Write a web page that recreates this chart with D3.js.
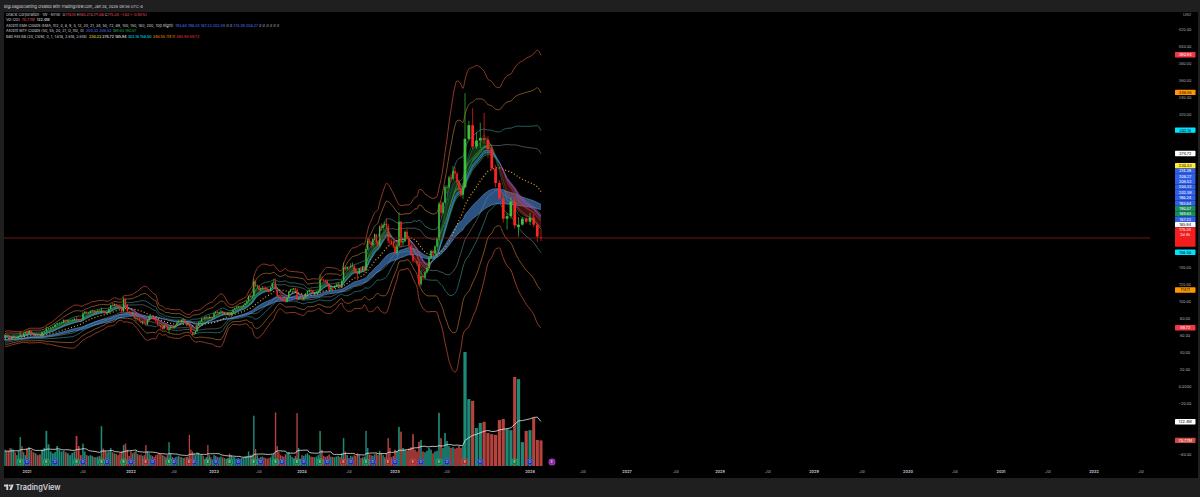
<!DOCTYPE html>
<html>
<head>
<meta charset="utf-8">
<title>ORCL 1W</title>
<script src="https://cdn.jsdelivr.net/npm/d3@7/dist/d3.min.js"></script>
<style>
  html, body { margin:0; padding:0; background:#1f1f1f; overflow:hidden; }
  svg { display:block; font-family: Inter, "Noto Sans", "DejaVu Sans", sans-serif; }
  text { white-space: pre; }
</style>
</head>
<body>
<svg id="chart" width="1200" height="497"></svg>
<script>
// ================= DATA (weekly bars, ORCL) =================
const startWeek = "2020-05-25";

const opens = [
  52.5,53.8,55.2,53.5,53.5,54.5,55.3,55.0,56.0,55.0,55.3,55.8,55.5,57.0,57.2,58.0,61.0,59.5,59.0,
  59.5,61.5,61.0,59.5,56.5,58.5,59.0,58.0,58.0,60.0,61.0,60.0,63.5,
  64.5,63.5,66.0,62.5, 60.5,61.0,60.5,60.0, 64.5,65.5,68.5,69.0,70.0, 71.0,73.5,75.0,75.5, 76.0,79.0,77.0,78.5,78.7, 79.0,80.5,79.8,79.5, 79.5,86.5,88.5,87.0, 87.2,89.5,90.0,88.0,89.0, 89.7,89.0,89.5,88.5, 87.0,88.0,92.0,96.5, 96.0,97.5,96.0,95.5,92.8, 89.0,103.5,97.0,89.0,
  87.5,86.0,86.5,80.5,81.0, 80.5,77.5,75.5,77.0, 75.5,73.5,79.0,83.0, 83.5,80.0,79.0,77.0, 73.5,73.0,70.5,68.5,72.5, 71.5,67.0,69.0,70.8, 70.0,71.0,72.5,76.0, 77.8,76.5,79.0,79.5,76.0, 73.0,74.5,71.0,64.5, 61.5,63.0,65.5,72.5,76.0, 76.5,80.5,80.0,82.5, 82.5,81.5,82.5,81.5,
  82.0,87.0,88.5,87.0,88.0, 89.0,86.5,87.0,85.0, 87.5,86.0,88.0,91.0, 93.0,93.5,95.0,94.5, 94.7,96.5,98.5,101.5,107.0, 106.0,107.0,124.5,119.0, 119.0,114.5,116.0,116.5,116.0, 115.5,114.0,113.0,117.0, 122.5,123.0,115.0,107.0, 106.0,103.5,102.5,101.0,100.0, 105.0,112.0,114.5,115.0, 116.0,114.5,103.0,105.0,
  105.5,103.0,105.5,110.0,112.5, 114.0,113.0,110.5,111.5, 111.7,113.0,126.5,126.0, 125.6,125.0,121.0,114.5,117.0, 116.5,119.0,120.5,121.0, 117.2,125.0,140.5,139.0, 141.2,141.0,142.5,143.0,137.0, 135.0,133.5,139.5,137.5, 141.3,137.5,162.0,172.0,171.0, 167.0,174.0,179.5,170.5, 166.5,189.0,187.0,190.5, 192.0,189.5,172.0,171.0,169.5,
  165.5,158.0,166.0,194.5, 170.0,171.5,182.5,175.0, 166.5,156.0,148.5,148.0,145.0, 121.0,130.5,129.0,135.0, 140.0,152.0,160.0,157.0, 165.5,174.0,215.0,205.0,217.0, 235.0,235.0,246.5,245.0, 254.0,251.0,241.0,234.0, 226.0,235.0,292.0,308.0,283.0, 290.0,293.0,291.0,280.0, 257.0,240.0,222.0,198.0, 201.0,218.0,188.0,191.0,198.0,
  194.5,199.0,191.0,176.10
];
const highs = [
  54.5,55.5,56.0,55.0,55.0,55.5,56.0,56.5,56.5,55.5,56.5,56.5,57.5,58.0,60.5,63.5,62.5,60.0,60.5,
  62.0,62.5,61.5,60.0,59.5,60.5,59.5,59.0,60.0,65.0,61.5,63.5,65.0,
  66.0,66.5,66.5,63.0, 61.5,61.5,61.0,65.0, 66.5,71.0,70.0,70.5,71.5, 74.0,75.5,76.5,77.0, 79.5,79.5,79.0,79.5,80.0, 81.0,83.5,80.0,80.0, 88.5,89.5,89.0,88.5, 90.0,91.0,90.5,89.5,91.0, 91.5,93.5,90.0,89.5, 89.0,92.5,97.0,99.0, 98.5,98.0,97.0,96.0,94.0, 106.0,104.0,97.5,89.5,
  89.0,88.0,87.0,81.5,82.0, 81.5,79.0,77.5,78.0, 76.0,80.0,84.0,85.0, 84.5,81.0,81.5,78.5, 76.0,73.5,72.0,73.0,74.0, 72.5,70.5,72.0,72.5, 71.5,73.5,76.5,78.5, 78.5,79.5,81.0,80.0,76.5, 75.0,76.5,71.5,65.0, 64.5,66.0,73.0,77.0,78.0, 81.0,81.5,82.5,83.5, 83.0,84.5,83.0,82.5,
  87.5,89.0,89.5,88.5,91.0, 89.5,88.0,87.5,88.0, 88.5,88.5,91.5,93.5, 95.0,95.5,96.0,95.5, 97.0,99.0,102.0,107.5,108.5, 108.0,127.5,125.0,120.5, 119.5,117.0,119.0,118.5,118.5, 116.5,115.5,117.5,123.0, 127.5,127.5,116.0,108.5, 107.0,105.5,104.0,103.0,105.5, 112.5,115.0,116.0,116.5, 117.0,116.0,106.0,106.5,
  106.0,106.0,110.5,113.5,115.0, 115.5,114.0,112.0,113.0, 114.0,132.5,130.0,127.5, 126.5,126.0,122.0,118.0,118.5, 119.5,122.0,123.5,121.5, 125.5,146.5,142.5,142.0, 142.5,145.5,146.5,143.5,140.5, 136.0,140.0,140.5,142.0, 142.0,162.5,175.0,174.5,172.0, 175.0,180.5,180.0,173.0, 190.0,192.5,191.5,194.0, 198.0,192.0,180.0,174.0,171.5,
  168.0,167.5,205.5,195.0, 174.5,184.0,186.0,177.0, 168.0,160.0,154.0,153.5,147.5, 137.5,133.5,136.0,141.5, 153.0,161.5,161.5,166.5, 175.5,217.5,218.5,218.0,237.0, 237.5,248.5,251.0,260.0, 259.0,253.0,244.0,237.5, 240.0,345.7,313.0,328.0,300.0, 311.0,322.5,295.0,285.0, 261.0,243.0,228.0,205.0, 223.0,223.5,200.0,200.0,199.5,
  205.0,204.0,192.5,185.21
];
const lows = [
  52.0,53.5,52.5,52.5,52.5,54.0,54.5,54.5,54.5,53.5,54.5,55.0,55.0,56.0,56.0,57.0,59.0,57.0,58.0,
  58.5,60.5,59.0,55.5,56.0,57.5,57.5,57.5,57.5,59.5,58.5,59.5,63.0,
  62.5,63.0,62.5,60.0, 59.5,60.0,59.5,59.5, 63.0,65.0,67.5,67.5,69.5, 70.5,73.0,74.0,75.0, 75.5,75.0,76.0,78.0,78.0, 78.5,77.5,77.5,77.5, 79.0,86.0,85.5,86.5, 87.0,88.5,86.5,87.5,88.5, 88.5,86.5,87.0,85.5, 85.5,87.5,91.5,95.0, 95.0,94.5,94.5,92.0,86.0, 88.0,94.0,88.0,86.5,
  84.5,84.5,80.0,77.5,78.5, 77.0,75.0,73.5,74.5, 72.5,73.0,78.5,82.0, 79.5,78.5,76.5,73.0, 71.5,67.5,67.0,67.5,70.5, 67.0,63.8,68.0,68.5, 68.5,70.0,72.0,74.5, 75.5,76.0,78.5,75.5,72.5, 72.0,70.5,64.0,60.8, 61.0,62.0,65.0,72.0,74.0, 76.0,79.0,79.5,81.0, 80.0,80.5,80.5,80.5,
  81.5,86.0,86.5,86.0,87.5, 86.0,85.5,84.5,84.5, 84.0,82.0,87.5,90.5, 92.5,93.0,94.0,93.0, 94.0,96.0,98.0,100.5,104.5, 104.0,106.5,117.5,115.5, 113.5,112.5,115.0,114.5,113.5, 112.0,111.5,112.5,116.5, 121.5,114.5,106.5,104.5, 102.5,101.5,100.5,99.3,99.5, 104.5,111.5,113.5,113.5, 113.5,101.0,102.5,104.5,
  102.5,102.5,105.0,109.5,111.5, 112.0,109.5,108.5,110.5, 110.0,112.5,124.5,124.0, 122.5,120.5,113.5,113.0,113.5, 116.0,118.0,118.5,115.5, 116.5,124.0,136.5,137.0, 137.5,139.5,141.0,134.5,133.0, 125.5,132.5,136.5,136.5, 134.5,136.5,160.5,168.0,164.0, 166.0,172.5,168.0,164.5, 166.0,183.5,184.5,188.0, 186.5,169.0,166.5,167.5,163.5,
  156.0,155.5,164.5,163.5, 166.0,170.5,173.5,162.0, 153.5,146.5,146.0,142.0,118.5, 118.9,125.5,126.0,133.5, 139.0,151.0,155.5,156.0, 164.0,172.5,199.5,203.5,216.0, 227.0,232.5,241.0,243.0, 246.0,238.0,228.5,224.0, 221.5,234.0,290.0,280.0,280.0, 281.0,286.0,270.0,255.0, 235.0,220.0,193.5,185.5, 198.0,186.5,177.0,190.0,192.5,
  190.5,188.0,170.5,171.68
];
const closes = [
  53.8,55.2,53.5,53.5,54.5,55.3,55.0,56.0,55.0,55.3,55.8,55.5,57.0,57.2,58.0,61.0,59.5,59.0,59.5,
  61.5,61.0,59.5,56.1,58.5,59.0,58.0,58.5,59.6,61.0,59.8,63.3,64.7,
  63.5,66.0,62.5,60.4, 61.0,60.5,60.2,64.5, 65.3,68.5,69.0,70.0,71.0, 73.5,75.0,75.5,75.8, 79.0,77.0,78.5,78.7,79.0, 80.5,79.8,79.5,79.4, 86.5,88.5,87.0,87.2, 89.5,90.0,88.0,89.0,89.7, 89.0,89.5,88.5,87.0, 88.0,92.0,96.5,96.0, 97.5,96.0,95.5,92.8,89.0, 103.5,97.0,89.0,87.2,
  86.0,86.5,80.5,81.0,80.5, 77.5,75.5,77.0,75.5, 73.5,79.0,83.0,83.5, 80.0,79.0,77.0,73.4, 73.0,70.5,68.5,72.5,71.5, 67.5,69.0,70.8,69.9, 71.0,72.5,76.0,77.8, 76.5,79.0,79.5,76.0,73.0, 74.5,71.0,64.5,61.1, 63.0,65.5,72.5,76.0,76.5, 80.5,80.0,82.5,82.5, 81.5,82.5,81.5,81.7,
  87.0,88.5,87.0,88.0,89.0, 86.5,87.0,85.0,87.5, 86.0,88.0,91.0,92.9, 93.5,95.0,94.5,94.7, 96.5,98.5,101.5,107.0,106.0, 106.5,124.5,119.0,119.1, 114.5,116.0,116.5,116.0,115.5, 114.0,113.0,117.0,122.5, 123.0,115.0,107.0,105.9, 103.5,102.5,101.0,100.0,105.0, 112.0,114.5,115.0,116.0, 114.5,103.0,105.0,105.4,
  103.0,105.5,110.0,112.5,114.0, 113.0,110.5,111.5,111.7, 113.0,126.5,126.0,125.6, 125.0,121.0,114.5,117.0,116.5, 119.0,120.5,121.0,117.2, 125.0,140.5,139.0,141.2, 141.0,142.5,143.0,137.0,135.0, 133.5,139.5,137.5,141.3, 137.5,162.0,172.0,171.0,167.0, 174.0,179.5,170.5,166.5, 189.0,187.0,190.5,192.0, 189.5,172.0,171.0,169.5,165.5,
  158.0,166.0,194.5,170.0, 171.5,182.5,175.0,166.5, 156.0,148.5,148.0,145.0,121.0, 130.5,129.0,135.0,140.0, 152.0,160.0,157.0,165.5, 174.0,215.0,205.0,217.0,235.0, 235.0,246.5,245.0,254.0, 251.0,241.0,234.0,226.0, 235.0,292.0,308.0,283.0,290.0, 293.0,291.0,280.0,257.0, 240.0,222.0,198.0,201.0, 218.0,190.0,191.0,198.0,194.5,
  199.0,191.0,176.96,175.34
];
// weekly volume, millions
const volumes = [
  40,42,45,38,45,30,32,38,36,35,30,28,30,32,40,110,60,35,30,
  45,40,42,50,48,45,38,30,42,80,55,38,30,
  48,52,44,38, 35,30,32,45, 50,97,60,40,35, 38,55,45,40, 42,38,35,30,36, 40,83,55,30, 62,40,30,28, 30,28,25,24,26, 28,110,48,42, 38,40,50,38, 35,33,30,35,40, 58,62,45,28,
  40,35,38,42,33, 30,32,28,30, 58,40,35,30, 28,25,30,32, 35,33,30,28,25, 30,66,35,25, 22,24,26,28, 25,24,22,23,25, 26,86,45,40, 35,30,38,36,30, 32,28,20,25, 58,30,25,18,
  30,28,25,24,26, 24,22,20,22, 34,30,25,24, 20,22,20,22, 24,26,28,40,30, 32,139,47,30, 22,25,26,24,22, 20,22,24,30, 35,148,55,38, 30,28,26,32,35, 38,30,25,22, 28,146,50,20,
  30,28,32,35,30, 26,25,24,26, 30,97,45,28, 25,28,32,26,25, 24,26,28,25, 35,77,40,30, 22,28,26,30,28, 35,30,22,24, 26,97,50,32,30, 28,32,35,30, 42,36,30,24, 35,77,50,25,28,
  45,40,108,95, 50,45,42,48, 52,88,45,40,67, 72,40,38,42, 50,45,35,40, 42,147,77,50,91, 69,55,50,52, 48,50,55,50, 55,315,185,180,105, 119,122,91,88, 86,127,130,102, 99,246,240,66,97,
  99,133,72,70.77
];

// earnings and dividends
const earningsDates = ["2020-09-10","2020-12-10","2021-03-10","2021-06-15","2021-09-13","2021-12-09","2022-03-10","2022-06-13","2022-09-12","2022-12-08","2023-03-09","2023-06-12","2023-09-11","2023-12-11","2024-03-11","2024-06-11","2024-09-09","2024-12-09","2025-03-10","2025-06-11","2025-09-09","2025-12-10","2026-03-10"];
const earningsResult = ["beat","beat","beat","beat","beat","beat","miss","beat","miss","beat","beat","beat","beat","beat","beat","miss","beat","miss","miss","beat","miss","beat","upcoming"];
const dividendDates = ["2020-07-15","2020-10-07","2021-01-07","2021-04-08","2021-07-08","2021-10-07","2022-01-06","2022-04-07","2022-07-07","2022-10-06","2023-01-11","2023-04-11","2023-07-11","2023-10-11","2024-01-10","2024-04-10","2024-07-10","2024-10-10","2025-01-10","2025-04-10","2025-07-10","2025-10-09","2026-01-09"];

// time axis tick labels
const xTickLabels = ["2021","Jul","2022","Jul","2023","Jul","2024","Jul","2025","Jul","2026","Jul","2027","Jul","2028","Jul","2029","Jul","2030","Jul","2031","Jul","2032","Jul"];
const xTickDates  = ["2021-01-04","2021-07-05","2022-01-03","2022-07-04","2023-01-02","2023-07-03","2024-01-01","2024-07-01","2025-01-06","2025-07-07","2026-01-05","2026-07-06","2027-01-04","2027-07-05","2028-01-03","2028-07-03","2029-01-01","2029-07-02","2030-01-07","2030-07-01","2031-01-06","2031-07-07","2032-01-05","2032-07-05"];

// price scale ticks
const priceTicks = [-80,-60,-40,-20,0,20,40,60,80,100,120,140,160,180,200,220,240,260,280,300,320,340,360,380,400,420];

// last values shown on the price scale
const scaleLabelValues = [390.94, 346.55, 302.16, 274.72, 230.33, 214.39, 208.27, 206.52, 204.32, 202.59, 198.24, 193.84, 190.07, 189.63, 187.23, 185.94, 158.50, 114.11, 69.72];
const scaleLabelKinds  = ["bb3","bb2","bb1","bb0","basis","ema","ema","ema","ema","ema","ema","ema","mtfg","mtfg","ema","bb0","bb1","bb2","bb3"];
const volLabelValues = [122.4, 70.77];
const volLabelTexts  = ["122.4M", "70.77M"];
const countdownText = "2d 4h";

// legend texts
const headerText = "BigLeagueGaming created with TradingView.com, Jan 28, 2026 09:56 UTC-8";
const symbolTitle = "Oracle Corporation · 1W · NYSE";
const volTitle = "Vol (20)";
const volLegend = ["70.77M", "122.4M"];
const emaTitle = "Ascent EMA Clouds (EMA, hl2, 0, 8, 9, 5, 12, 20, 21, 34, 50, 72, 89, 100, 150, 180, 200, Top Right)";
const emaLegend = ["193.84","198.24","187.23","202.59","∅","∅","214.39","208.27","∅","∅","∅","∅","∅","∅"];
const mtfTitle = "Ascent MTF Clouds (50, 55, 20, 21, D, hl2, 0)";
const mtfLegend = ["204.32","206.52","189.63","190.07"];
const bbTitle = "Bad Ass BB (20, close, 0, 1, 1.618, 2.618, 3.618)";
const bbLegend = ["230.33","274.72","185.94","302.16","158.50","346.55","114.11","390.94","69.72"];

// ================= LAYOUT / STYLE =================
const W = 1200, H = 497;
const pane = {x:4, y:12, w:1194, h:466};
const plotRight = 1150;
const axisCalibDates = ["2020-10-05","2021-01-04","2021-07-05","2022-01-03","2022-07-04","2023-01-02","2023-07-03","2024-01-01","2024-07-01","2025-01-06","2025-07-07","2025-09-08","2026-01-05","2026-01-26","2026-07-06","2027-01-04","2027-07-05","2028-01-03","2028-07-03","2029-01-01","2029-07-02","2030-01-07","2030-07-01","2031-01-06","2031-07-07","2032-01-05","2032-07-05"];
const axisCalibPx    = [5,27,83,131,174,214,259,302,349,395,447,465,530,541,583,627,676,720,768,814,862,908,955,1001,1048,1094,1141];

const C = {
  up:"#3cc13c", down:"#ff2424",
  volUp:"#1d8a77", volDown:"#b4423d",
  text:"#d1d4dc", axisText:"#a3a6af",
  legendRed:"#f7525f", blue:"#4f7dff", green:"#26b05f", yellow:"#ffeb3b", cyan:"#00e5ff", orange:"#ff9800", red:"#f23645"
};
const labelStyle = {
  bb3:{bg:"#f23645", fg:"#ffffff"}, bb2:{bg:"#ff9800", fg:"#000000"}, bb1:{bg:"#00e5ff", fg:"#000000"},
  bb0:{bg:"#ffffff", fg:"#000000"}, basis:{bg:"#ffeb3b", fg:"#000000"}, ema:{bg:"#2f5fe6", fg:"#ffffff"},
  mtfg:{bg:"#168a5c", fg:"#ffffff"}
};

// ================= BUILD =================
const parse = d3.utcParse("%Y-%m-%d");
const n = closes.length;
const svg = d3.select("#chart");
const okLen = [opens,highs,lows,volumes].every(a => a.length === n);

const start = parse(startWeek);
const dates = d3.range(n).map(i => d3.utcDay.offset(start, 7*i));
const x = d3.scaleUtc().domain(axisCalibDates.map(parse)).range(axisCalibPx);
const y = d3.scaleLinear().domain([0, 420]).range([387, 30]);
const yv = d3.scaleLinear().domain([0, 122.4]).range([466, 421.7]);
const xs = dates.map(d => x(d));
const spacing = xs.map((v,i) => i < n-1 ? xs[i+1]-v : v - xs[i-1]);

// indicators derived from the bars
const hl2 = highs.map((h,i) => (h + lows[i]) / 2);
function ema(arr, len){ const k = 2/(len+1); let p; return arr.map((v,i) => (p = i===0 ? v : v*k + p*(1-k))); }
const e4 = ema(hl2,4), e5 = ema(hl2,5), e8 = ema(hl2,8), e9 = ema(hl2,9), e10 = ema(hl2,10), e11 = ema(hl2,11), e12 = ema(hl2,12), e34 = ema(hl2,34), e50 = ema(hl2,50);
const bbLen = 20;
const basis = [], sd = [];
closes.forEach((c,i) => {
  if (i < bbLen-1) { basis.push(null); sd.push(null); return; }
  const w = closes.slice(i-bbLen+1, i+1); const m = d3.mean(w);
  basis.push(m); sd.push(Math.sqrt(d3.mean(w, v => (v-m)*(v-m))));
});
const volMA = volumes.map((v,i) => i < 19 ? null : d3.mean(volumes.slice(i-19, i+1)));

// backgrounds
svg.append("rect").attr("width",W).attr("height",H).attr("fill","#1f1f1f");
svg.append("rect").attr("x",pane.x).attr("y",pane.y).attr("width",pane.w).attr("height",pane.h).attr("fill","#000");
const defs = svg.append("defs");
defs.append("clipPath").attr("id","plotclip").append("rect")
  .attr("x",pane.x).attr("y",pane.y).attr("width",plotRight-pane.x).attr("height",pane.h);
const plot = svg.append("g").attr("clip-path","url(#plotclip)");

// volume
plot.append("g").selectAll("rect").data(d3.range(n)).join("rect")
  .attr("x", i => xs[i] - spacing[i]*0.42)
  .attr("width", i => Math.max(0.9, spacing[i]*0.84))
  .attr("y", i => yv(volumes[i]))
  .attr("height", i => yv(0) - yv(volumes[i]))
  .attr("fill", i => closes[i] >= opens[i] ? C.volUp : C.volDown);
const idxFrom = s => d3.range(s, n);
plot.append("path").datum(idxFrom(19))
  .attr("d", d3.line().x(i => xs[i]).y(i => yv(volMA[i])))
  .attr("fill","none").attr("stroke","#e6e6e6").attr("stroke-width",0.8);

// Bollinger lines
const bbMults = [3.618, 2.618, 1.618, 1];
const bbColors = ["#bf4a30","#a4662e","#2f7a78","#56665f"];
bbMults.forEach((m,k) => {
  [1,-1].forEach(s => {
    plot.append("path").datum(idxFrom(bbLen-1))
      .attr("d", d3.line().curve(d3.curveMonotoneX).x(i => xs[i]).y(i => y(basis[i] + s*m*sd[i])))
      .attr("fill","none").attr("stroke",bbColors[k]).attr("stroke-width",0.85).attr("opacity",0.9);
  });
});

// cloud helper: fills between a and b, coloured by which one is on top
function cloud(g, a, b, upFill, downFill, from, lineUp, lineDown, lw){
  const runs = [];
  for (let i = from; i < n; i++) {
    const up = a[i] >= b[i];
    if (!runs.length || runs[runs.length-1].up !== up) runs.push({up, s:i, e:i}); else runs[runs.length-1].e = i;
  }
  runs.forEach((r,k) => {
    const e = k < runs.length-1 ? runs[k+1].s : r.e;
    const idx = d3.range(r.s, e+1);
    g.append("path").datum(idx)
      .attr("d", d3.area().x(i => xs[i]).y0(i => y(a[i])).y1(i => y(b[i])))
      .attr("fill", r.up ? upFill : downFill);
    if (lineUp) {
      [a,b].forEach(arr => g.append("path").datum(idx)
        .attr("d", d3.line().x(i => xs[i]).y(i => y(arr[i])))
        .attr("fill","none").attr("stroke", r.up ? lineUp : lineDown).attr("stroke-width", lw));
    }
  });
}
// slow blue cloud (34/50)
cloud(plot, e34, e50, "rgba(70,130,205,0.62)", "rgba(70,130,205,0.62)", 0, "rgba(110,170,240,0.8)", "rgba(110,170,240,0.8)", 0.6);
// MTF blue (50/55 D)
cloud(plot, e10, e11, "rgba(41,98,255,0.45)", "rgba(41,98,255,0.45)", 0, "#2f6bff", "#2f6bff", 0.8);
// fast clouds (5/12, 8/9)
cloud(plot, e5, e12, "rgba(60,185,80,0.28)", "rgba(215,55,55,0.30)", 0, "rgba(80,205,100,0.55)", "rgba(230,80,80,0.55)", 0.6);
cloud(plot, e8, e9, "rgba(60,185,80,0.5)", "rgba(215,55,55,0.5)", 0, null, null, 0);
// MTF green line (20/21 D)
plot.append("path").datum(idxFrom(0))
  .attr("d", d3.line().x(i => xs[i]).y(i => y(e4[i])))
  .attr("fill","none").attr("stroke","rgba(70,200,130,0.55)").attr("stroke-width",0.6);

// BB basis (dotted)
plot.append("path").datum(idxFrom(bbLen-1))
  .attr("d", d3.line().x(i => xs[i]).y(i => y(basis[i])))
  .attr("fill","none").attr("stroke","#e8a825").attr("stroke-width",1.2).attr("stroke-dasharray","1 2.2");

// candles
const cg = plot.append("g");
cg.selectAll("line").data(d3.range(n)).join("line")
  .attr("x1", i => xs[i]).attr("x2", i => xs[i])
  .attr("y1", i => y(highs[i])).attr("y2", i => y(lows[i]))
  .attr("stroke", i => closes[i] >= opens[i] ? C.up : C.down).attr("stroke-width",0.7);
cg.selectAll("rect").data(d3.range(n)).join("rect")
  .attr("x", i => xs[i] - Math.max(1, spacing[i]*0.72)/2)
  .attr("width", i => Math.max(1, spacing[i]*0.72))
  .attr("y", i => y(Math.max(opens[i], closes[i])))
  .attr("height", i => Math.max(0.6, Math.abs(y(opens[i]) - y(closes[i]))))
  .attr("fill", i => closes[i] >= opens[i] ? C.up : C.down);

// last price line
const lastClose = closes[n-1];
svg.append("line").attr("x1",pane.x).attr("x2",plotRight).attr("y1",y(lastClose)).attr("y2",y(lastClose))
  .attr("stroke","#8a1e1e").attr("stroke-width",0.8);

// earnings / dividend markers (only those inside the visible pane)
const mg = plot.append("g");
const markY = 462;
const inPane = cx => cx - 3 >= pane.x && cx + 3 <= plotRight;
dividendDates.forEach(d => {
  const cx = x(d3.utcMonday.floor(parse(d)));
  if (!inPane(cx)) return;
  mg.append("circle").attr("cx",cx).attr("cy",markY).attr("r",3).attr("fill","#1b2f9a").attr("stroke","#4b6dff").attr("stroke-width",0.6);
  mg.append("text").attr("x",cx).attr("y",markY+1.3).attr("text-anchor","middle").attr("font-size",3.6).attr("fill","#dfe6ff").text("D");
});
earningsDates.forEach((d,k) => {
  const cx = x(d3.utcMonday.floor(parse(d)));
  if (!inPane(cx)) return;
  const res = earningsResult[k];
  const fill = res === "beat" ? "#157a4a" : res === "miss" ? "#9c2a2a" : "#8e24aa";
  const stroke = res === "beat" ? "#2fbf74" : res === "miss" ? "#e05050" : "#c257d8";
  mg.append("rect").attr("x",cx-3).attr("y",markY-3).attr("width",6).attr("height",6).attr("rx",2)
    .attr("fill",fill).attr("stroke",stroke).attr("stroke-width",0.6);
  mg.append("text").attr("x",cx).attr("y",markY+1.3).attr("text-anchor","middle").attr("font-size",3.6).attr("fill","#ffffff").text("E");
});

// time axis
svg.append("g").selectAll("text").data(xTickDates).join("text")
  .attr("x", d => x(parse(d))).attr("y", 472.5).attr("text-anchor","middle")
  .attr("font-size",3.8).attr("fill", (d,i) => /^\d/.test(xTickLabels[i]) ? "#c8cbd3" : C.axisText)
  .attr("font-weight", (d,i) => /^\d/.test(xTickLabels[i]) ? 600 : 400)
  .text((d,i) => xTickLabels[i]);

// price scale labels (stacked like the platform does)
const LH = 5.35;
const priceY = y(lastClose);
const priceTop = priceY - 10.7, priceBot = priceY + 8.8;
const labels = scaleLabelValues.map((v,i) => ({v, kind: scaleLabelKinds[i]}));
let limit = priceTop;
labels.filter(l => l.v > lastClose).sort((a,b) => a.v - b.v).forEach(l => { l.cy = Math.min(y(l.v), limit - LH/2); limit = l.cy - LH/2; });
limit = priceBot;
labels.filter(l => l.v < lastClose).sort((a,b) => b.v - a.v).forEach(l => { l.cy = Math.max(y(l.v), limit + LH/2); limit = l.cy + LH/2; });
const volLabels = volLabelValues.map((v,i) => ({cy: yv(v), t: volLabelTexts[i], i}));
const occupied = labels.map(l => l.cy).concat(volLabels.map(l => l.cy)).concat([priceY-6, priceY-1, priceY+4]);

const fmt = v => v === 0 ? "0.0000" : (v < 0 ? "−" + Math.abs(v).toFixed(2) : v.toFixed(2));
svg.append("g").selectAll("text").data(priceTicks.filter(v => !occupied.some(o => Math.abs(o - y(v)) < 4.6))).join("text")
  .attr("x",1185).attr("y", v => y(v) + 1.3).attr("text-anchor","middle")
  .attr("font-size",3.8).attr("fill",C.axisText).text(fmt);

const lg = svg.append("g");
labels.forEach(l => {
  const st = labelStyle[l.kind];
  lg.append("rect").attr("x",1175).attr("y",l.cy - LH/2).attr("width",20.5).attr("height",LH).attr("rx",0.6).attr("fill",st.bg);
  lg.append("text").attr("x",1185.2).attr("y",l.cy + 1.35).attr("text-anchor","middle").attr("font-size",3.8).attr("fill",st.fg).text(l.v.toFixed(2));
});
// price label
lg.append("rect").attr("x",1175).attr("y",priceTop).attr("width",20.5).attr("height",priceBot-priceTop).attr("rx",0.6).attr("fill","#f21e1e");
lg.append("text").attr("x",1185.2).attr("y",priceTop + 4.2).attr("text-anchor","middle").attr("font-size",3.8).attr("fill","#fff").text(lastClose.toFixed(2));
lg.append("text").attr("x",1185.2).attr("y",priceTop + 9.2).attr("text-anchor","middle").attr("font-size",3.6).attr("fill","#fff").text(countdownText);
// volume labels
volLabels.forEach(l => {
  lg.append("rect").attr("x",1175).attr("y",l.cy - LH/2).attr("width",20.5).attr("height",LH).attr("rx",0.6).attr("fill", l.i === 0 ? "#ffffff" : "#cf4a45");
  lg.append("text").attr("x",1185.2).attr("y",l.cy + 1.35).attr("text-anchor","middle").attr("font-size",3.8).attr("fill", l.i === 0 ? "#000" : "#fff").text(l.t);
});
svg.append("text").attr("x",1187).attr("y",16).attr("text-anchor","middle").attr("font-size",3.8).attr("fill",C.axisText).text("USD");

// header
svg.append("text").attr("x",4).attr("y",7.6).attr("font-size",3.8).attr("fill",C.text).text(headerText);

// legend
function legendLine(yb, parts){
  const t = svg.append("text").attr("x",6).attr("y",yb).attr("font-size",3.7);
  parts.forEach(p => t.append("tspan").attr("fill",p[1]).text(p[0]));
}
const lo = opens[n-1], lh = highs[n-1], ll = lows[n-1], lc = closes[n-1], pc = closes[n-2];
const chg = lc - pc, pct = chg / pc * 100;
const mfmt = v => (v < 0 ? "−" : "+") + Math.abs(v).toFixed(2);
const lcol = chg < 0 ? C.legendRed : "#22ab94";
legendLine(16.0, [[symbolTitle + "  ", C.text], ["O", C.text], [lo.toFixed(2) + " ", lcol], ["H", C.text], [lh.toFixed(2) + " ", lcol],
  ["L", C.text], [ll.toFixed(2) + " ", lcol], ["C", C.text], [lc.toFixed(2) + " ", lcol], [mfmt(chg) + " (" + mfmt(pct) + "%)", lcol]]);
legendLine(21.3, [[volTitle + "  ", C.text], [volLegend[0] + "  ", C.legendRed], [volLegend[1], "#ffffff"]]);
legendLine(27.0, [[emaTitle + "  ", C.text]].concat(emaLegend.map(v => [v + " ", v === "∅" ? "#8a8d96" : C.blue])));
legendLine(32.3, [[mtfTitle + "  ", C.text], [mtfLegend[0] + " ", C.blue], [mtfLegend[1] + " ", C.blue], [mtfLegend[2] + " ", C.green], [mtfLegend[3], C.green]]);
const bbCols = [C.yellow, "#ffffff", "#ffffff", C.cyan, C.cyan, C.orange, C.orange, C.red, C.red];
legendLine(38.0, [[bbTitle + "  ", C.text]].concat(bbLegend.map((v,i) => [v + " ", bbCols[i]])));

// footer logo
const fg = svg.append("g").attr("fill","#d1d4dc");
fg.append("rect").attr("x",4).attr("y",484.6).attr("width",4.2).attr("height",1.9);
fg.append("rect").attr("x",6.3).attr("y",484.6).attr("width",1.9).attr("height",5.4);
fg.append("circle").attr("cx",9.9).attr("cy",485.5).attr("r",0.95);
fg.append("path").attr("d","M11.4,484.6 L13.7,484.6 L11.6,490 L9.3,490 Z");
svg.append("text").attr("x",15.5).attr("y",489.9).attr("font-size",7.4).attr("font-weight",600).attr("fill","#d1d4dc").text("TradingView");

if (!okLen) svg.append("text").attr("x",600).attr("y",250).attr("fill","yellow").attr("font-size",20).text("length mismatch " + [n, opens.length, highs.length, lows.length, volumes.length].join(","));
</script>
</body>
</html>
